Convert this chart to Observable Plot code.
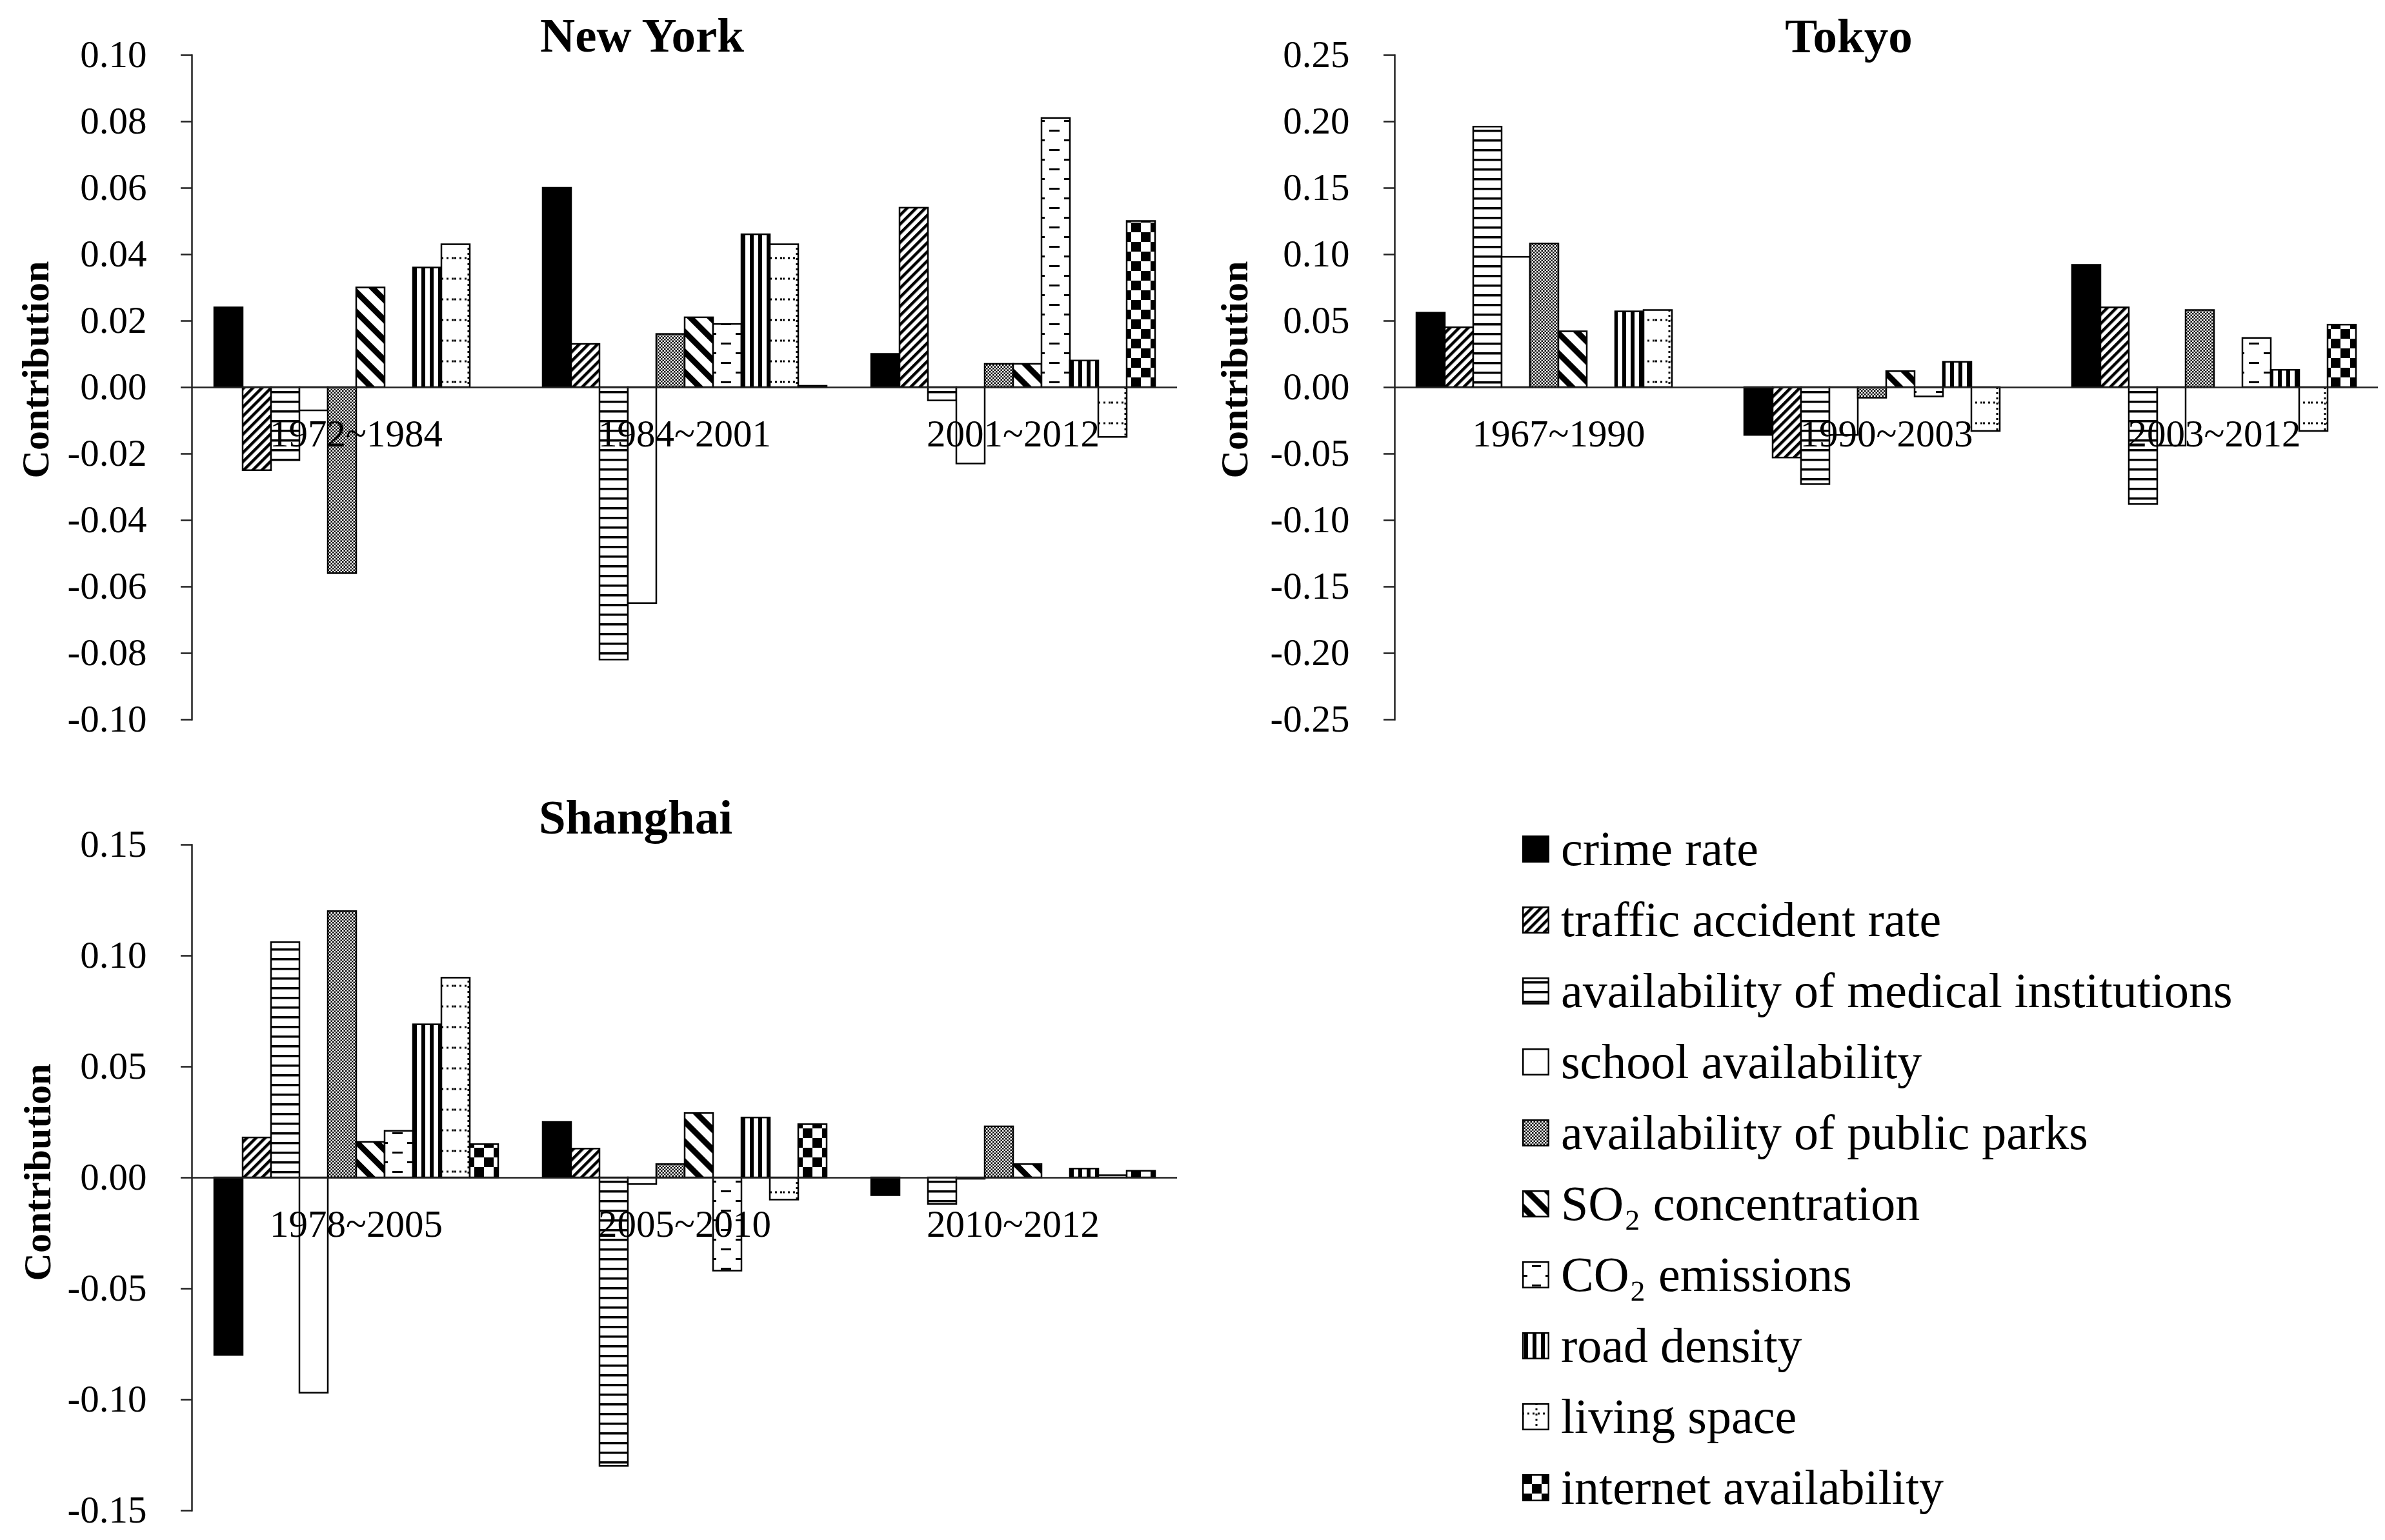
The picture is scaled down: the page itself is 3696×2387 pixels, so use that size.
<!DOCTYPE html>
<html>
<head>
<meta charset="utf-8">
<script src="https://cdn.jsdelivr.net/npm/d3@7"></script>
<script src="https://cdn.jsdelivr.net/npm/@observablehq/plot@0.6"></script>
<style>
html, body { margin: 0; padding: 0; background: #fff; }
#root { position: relative; width: 3696px; height: 2387px; overflow: hidden; background: #fff;
  font-family: "Liberation Serif", "Times New Roman", serif; color: #000; }
.abs { position: absolute; }
.title { font-weight: bold; font-size: 75px; line-height: 1; white-space: nowrap; transform: translateX(-50%); }
.ylab { font-weight: bold; font-size: 60px; line-height: 1; white-space: nowrap; transform: translate(-50%, -50%) rotate(-90deg); }
.leg { font-size: 76px; line-height: 1; white-space: nowrap; }
</style>
</head>
<body>
<svg width="0" height="0" style="position:absolute">
  <defs>
    <pattern id="pTraffic" width="10" height="10" patternUnits="userSpaceOnUse" patternTransform="rotate(45)">
      <rect width="10" height="10" fill="#fff"/><rect width="4.5" height="10" fill="#000"/>
    </pattern>
    <pattern id="pMedical" width="20" height="15" patternUnits="userSpaceOnUse">
      <rect width="20" height="15" fill="#fff"/><rect y="6" width="20" height="3.5" fill="#000"/>
    </pattern>
    <pattern id="pParks" width="5" height="5" patternUnits="userSpaceOnUse">
      <rect width="5" height="5" fill="#fff"/><rect width="2.5" height="2.5" fill="#000"/><rect x="2.5" y="2.5" width="2.5" height="2.5" fill="#000"/>
    </pattern>
    <pattern id="pSO2" width="22" height="22" patternUnits="userSpaceOnUse" patternTransform="rotate(-45)">
      <rect width="22" height="22" fill="#fff"/><rect width="9" height="22" fill="#000"/>
    </pattern>
    <pattern id="pCO2" width="44" height="30" patternUnits="userSpaceOnUse">
      <rect width="44" height="30" fill="#fff"/>
      <line x1="15" y1="7.5" x2="29" y2="7.5" stroke="#000" stroke-width="3"/>
      <line x1="0" y1="22.5" x2="8" y2="22.5" stroke="#000" stroke-width="3"/>
      <line x1="36" y1="22.5" x2="44" y2="22.5" stroke="#000" stroke-width="3"/>
    </pattern>
    <pattern id="pRoad" width="13" height="10" patternUnits="userSpaceOnUse">
      <rect width="13" height="10" fill="#fff"/><rect x="3" width="6" height="10" fill="#000"/>
    </pattern>
    <pattern id="pLiving" width="44" height="32" patternUnits="userSpaceOnUse">
      <rect width="44" height="32" fill="#fff"/>
      <line x1="0" y1="16" x2="44" y2="16" stroke="#000" stroke-width="3" stroke-dasharray="3 5"/>
      <line x1="22" y1="0" x2="22" y2="32" stroke="#000" stroke-width="3" stroke-dasharray="3 5"/>
    </pattern>
    <pattern id="pInternet" width="30" height="30" patternUnits="userSpaceOnUse">
      <rect width="30" height="30" fill="#fff"/><rect width="15" height="15" fill="#000"/><rect x="15" y="15" width="15" height="15" fill="#000"/>
    </pattern>
  </defs>
</svg>
<div id="root"></div>
<script>
// ---------------- data ----------------
const factors = [
  "crime rate",
  "traffic accident rate",
  "availability of medical institutions",
  "school availability",
  "availability of public parks",
  "SO₂ concentration",
  "CO₂ emissions",
  "road density",
  "living space",
  "internet availability"
];
const fills = ["#000", "url(#pTraffic)", "url(#pMedical)", "#fff", "url(#pParks)",
               "url(#pSO2)", "url(#pCO2)", "url(#pRoad)", "url(#pLiving)", "url(#pInternet)"];

const nyPeriods = ["1972~1984", "1984~2001", "2001~2012"];
const nyValues = [
  [0.024, -0.025, -0.022, -0.007, -0.056, 0.030, 0, 0.036, 0.043, 0],
  [0.060, 0.013, -0.082, -0.065, 0.016, 0.021, 0.019, 0.046, 0.043, 0.0004],
  [0.010, 0.054, -0.004, -0.023, 0.007, 0.007, 0.081, 0.008, -0.015, 0.050]
];
const nyTicks = [-0.10, -0.08, -0.06, -0.04, -0.02, 0.00, 0.02, 0.04, 0.06, 0.08, 0.10];

const tokyoPeriods = ["1967~1990", "1990~2003", "2003~2012"];
const tokyoValues = [
  [0.056, 0.045, 0.196, 0.098, 0.108, 0.042, 0, 0.057, 0.058, 0],
  [-0.036, -0.053, -0.073, -0.036, -0.008, 0.012, -0.007, 0.019, -0.033, 0],
  [0.092, 0.060, -0.088, -0.044, 0.058, 0, 0.037, 0.013, -0.033, 0.047]
];
const tokyoTicks = [-0.25, -0.20, -0.15, -0.10, -0.05, 0.00, 0.05, 0.10, 0.15, 0.20, 0.25];

const shPeriods = ["1978~2005", "2005~2010", "2010~2012"];
const shValues = [
  [-0.080, 0.018, 0.106, -0.097, 0.120, 0.016, 0.021, 0.069, 0.090, 0.015],
  [0.025, 0.013, -0.130, -0.003, 0.006, 0.029, -0.042, 0.027, -0.010, 0.024],
  [-0.008, 0, -0.012, -0.0006, 0.023, 0.006, 0, 0.004, 0.001, 0.003]
];
const shTicks = [-0.15, -0.10, -0.05, 0.00, 0.05, 0.10, 0.15];

// ---------------- drawing ----------------
const root = document.getElementById("root");

function panel(title, periods, values, ticks, box) {
  const data = periods.flatMap((p, i) => factors.map((f, j) => ({period: p, factor: f, value: values[i][j]})));
  const chart = Plot.plot({
    width: box.width, height: box.height,
    marginLeft: box.marginLeft, marginRight: box.marginRight, marginTop: 85, marginBottom: 25,
    style: {fontFamily: "Liberation Serif, Times New Roman, serif", fontSize: "59px", color: "#000", background: "transparent", overflow: "visible"},
    fx: {domain: periods, axis: null, paddingInner: 0, paddingOuter: 0},
    x: {domain: factors, axis: null, paddingInner: 0, paddingOuter: 0.73},
    y: {domain: [ticks[0], ticks[ticks.length - 1]], axis: null},
    color: {type: "ordinal", domain: factors, range: fills},
    marks: [
      Plot.barY(data, {fx: "period", x: "factor", y: "value", fill: "factor", stroke: "#000", strokeWidth: 2.5, inset: 0}),
      Plot.ruleY(periods, {fx: d => d, y: () => 0, stroke: "#222", strokeWidth: 2.5}),
      Plot.text(periods, {fx: d => d, text: d => d, y: () => 0, dy: 73, frameAnchor: "middle", fill: "#000", fontSize: 59}),
      Plot.axisY({ticks, tickFormat: d => d.toFixed(2), tickSize: 17, tickPadding: 53, strokeWidth: 2.5, stroke: "#222", label: null}),
      Plot.frame({anchor: "left", facet: "super", stroke: "#222", strokeWidth: 2.5})
    ]
  });
  chart.style.position = "absolute";
  chart.style.left = box.left + "px";
  chart.style.top = box.top + "px";
  root.appendChild(chart);

  const t = document.createElement("div");
  t.className = "abs title";
  t.textContent = title;
  t.style.left = box.titleX + "px";
  t.style.top = (box.titleBase - 63) + "px";
  root.appendChild(t);

  const yl = document.createElement("div");
  yl.className = "abs ylab";
  yl.textContent = "Contribution";
  yl.style.left = box.ylabX + "px";
  yl.style.top = box.ylabY + "px";
  root.appendChild(yl);
}

panel("New York", nyPeriods, nyValues, nyTicks,
  {left: 0, top: 0, width: 1850, height: 1140, marginLeft: 297, marginRight: 26,
   titleX: 995, titleBase: 80, ylabX: 55, ylabY: 573});
panel("Tokyo", tokyoPeriods, tokyoValues, tokyoTicks,
  {left: 1860, top: 0, width: 1836, height: 1140, marginLeft: 300, marginRight: 10,
   titleX: 2865, titleBase: 81, ylabX: 1913, ylabY: 573});
panel("Shanghai", shPeriods, shValues, shTicks,
  {left: 0, top: 1224, width: 1850, height: 1142, marginLeft: 297, marginRight: 26,
   titleX: 985, titleBase: 1292, ylabX: 58, ylabY: 1817});

// legend
factors.forEach((f, i) => {
  const base = 1341 + i * 110;
  const sw = document.createElementNS("http://www.w3.org/2000/svg", "svg");
  sw.setAttribute("width", 42); sw.setAttribute("height", 42);
  sw.style.position = "absolute"; sw.style.left = "2359px"; sw.style.top = (base - 46) + "px";
  const r = document.createElementNS("http://www.w3.org/2000/svg", "rect");
  r.setAttribute("x", 1.25); r.setAttribute("y", 1.25); r.setAttribute("width", 39.5); r.setAttribute("height", 39.5);
  r.setAttribute("fill", fills[i]); r.setAttribute("stroke", "#000"); r.setAttribute("stroke-width", 2.5);
  sw.appendChild(r);
  root.appendChild(sw);
  const t = document.createElement("div");
  t.className = "abs leg";
  t.textContent = f;
  t.style.left = "2419px";
  t.style.top = (base - 64) + "px";
  root.appendChild(t);
});
</script>
</body>
</html>
